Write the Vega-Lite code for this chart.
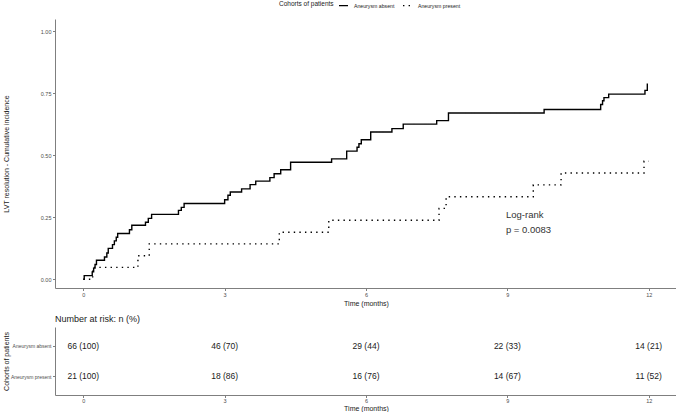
{
  "$schema": "https://vega.github.io/schema/vega-lite/v6.json",
  "padding": {"left": 2, "top": 0, "right": 0, "bottom": 0},
  "background": "white",
  "config": {
    "font": "Liberation Sans",
    "view": {"stroke": null},
    "axis": {"grid": false, "domainColor": "#7f7f7f", "tickColor": "#7f7f7f", "labelColor": "#4d4d4d", "labelFontSize": 5.5, "titleFontSize": 7, "titleFontWeight": "normal", "titleColor": "#1a1a1a", "tickSize": 2.5, "labelPadding": 1.5},
    "concat": {"spacing": 7}
  },
  "datasets": {
    "km": [
      {"group": "Aneurysm absent", "time": 0, "cum": 0},
      {"group": "Aneurysm absent", "time": 0.02, "cum": 0.015},
      {"group": "Aneurysm absent", "time": 0.19, "cum": 0.03},
      {"group": "Aneurysm absent", "time": 0.22, "cum": 0.045},
      {"group": "Aneurysm absent", "time": 0.25, "cum": 0.06},
      {"group": "Aneurysm absent", "time": 0.28, "cum": 0.077},
      {"group": "Aneurysm absent", "time": 0.45, "cum": 0.09},
      {"group": "Aneurysm absent", "time": 0.5, "cum": 0.106},
      {"group": "Aneurysm absent", "time": 0.53, "cum": 0.125},
      {"group": "Aneurysm absent", "time": 0.62, "cum": 0.14},
      {"group": "Aneurysm absent", "time": 0.66, "cum": 0.155},
      {"group": "Aneurysm absent", "time": 0.7, "cum": 0.17},
      {"group": "Aneurysm absent", "time": 0.73, "cum": 0.185},
      {"group": "Aneurysm absent", "time": 0.98, "cum": 0.2},
      {"group": "Aneurysm absent", "time": 1.03, "cum": 0.218},
      {"group": "Aneurysm absent", "time": 1.32, "cum": 0.23},
      {"group": "Aneurysm absent", "time": 1.38, "cum": 0.246},
      {"group": "Aneurysm absent", "time": 1.45, "cum": 0.262},
      {"group": "Aneurysm absent", "time": 2.02, "cum": 0.278},
      {"group": "Aneurysm absent", "time": 2.08, "cum": 0.29},
      {"group": "Aneurysm absent", "time": 2.14, "cum": 0.306},
      {"group": "Aneurysm absent", "time": 3.0, "cum": 0.321},
      {"group": "Aneurysm absent", "time": 3.07, "cum": 0.339},
      {"group": "Aneurysm absent", "time": 3.12, "cum": 0.352},
      {"group": "Aneurysm absent", "time": 3.36, "cum": 0.365},
      {"group": "Aneurysm absent", "time": 3.54, "cum": 0.382},
      {"group": "Aneurysm absent", "time": 3.66, "cum": 0.396},
      {"group": "Aneurysm absent", "time": 3.96, "cum": 0.41},
      {"group": "Aneurysm absent", "time": 4.05, "cum": 0.426},
      {"group": "Aneurysm absent", "time": 4.19, "cum": 0.442},
      {"group": "Aneurysm absent", "time": 4.4, "cum": 0.472},
      {"group": "Aneurysm absent", "time": 5.27, "cum": 0.486},
      {"group": "Aneurysm absent", "time": 5.59, "cum": 0.517},
      {"group": "Aneurysm absent", "time": 5.81, "cum": 0.533},
      {"group": "Aneurysm absent", "time": 5.85, "cum": 0.547},
      {"group": "Aneurysm absent", "time": 5.9, "cum": 0.563},
      {"group": "Aneurysm absent", "time": 6.1, "cum": 0.594},
      {"group": "Aneurysm absent", "time": 6.55, "cum": 0.608},
      {"group": "Aneurysm absent", "time": 6.79, "cum": 0.626},
      {"group": "Aneurysm absent", "time": 7.5, "cum": 0.64},
      {"group": "Aneurysm absent", "time": 7.75, "cum": 0.671},
      {"group": "Aneurysm absent", "time": 9.78, "cum": 0.685},
      {"group": "Aneurysm absent", "time": 10.98, "cum": 0.705},
      {"group": "Aneurysm absent", "time": 11.02, "cum": 0.72},
      {"group": "Aneurysm absent", "time": 11.05, "cum": 0.733},
      {"group": "Aneurysm absent", "time": 11.15, "cum": 0.747},
      {"group": "Aneurysm absent", "time": 11.92, "cum": 0.762},
      {"group": "Aneurysm absent", "time": 11.97, "cum": 0.79},
      {"group": "Aneurysm present", "time": 0, "cum": 0},
      {"group": "Aneurysm present", "time": 0.2, "cum": 0.048},
      {"group": "Aneurysm present", "time": 1.16, "cum": 0.095},
      {"group": "Aneurysm present", "time": 1.4, "cum": 0.143},
      {"group": "Aneurysm present", "time": 4.16, "cum": 0.19},
      {"group": "Aneurysm present", "time": 5.21, "cum": 0.238},
      {"group": "Aneurysm present", "time": 7.55, "cum": 0.286},
      {"group": "Aneurysm present", "time": 7.7, "cum": 0.333},
      {"group": "Aneurysm present", "time": 9.55, "cum": 0.381},
      {"group": "Aneurysm present", "time": 10.14, "cum": 0.429},
      {"group": "Aneurysm present", "time": 11.9, "cum": 0.476},
      {"group": "Aneurysm present", "time": 12.0, "cum": 0.476}
    ],
    "annot": [
      {"time": 8.97, "cum": 0.258, "text": "Log-rank"},
      {"time": 8.97, "cum": 0.198, "text": "p = 0.0083"}
    ],
    "risk": [
      {"group": "Aneurysm absent", "time": 0, "label": "66 (100)"},
      {"group": "Aneurysm absent", "time": 3, "label": "46 (70)"},
      {"group": "Aneurysm absent", "time": 6, "label": "29 (44)"},
      {"group": "Aneurysm absent", "time": 9, "label": "22 (33)"},
      {"group": "Aneurysm absent", "time": 12, "label": "14 (21)"},
      {"group": "Aneurysm present", "time": 0, "label": "21 (100)"},
      {"group": "Aneurysm present", "time": 3, "label": "18 (86)"},
      {"group": "Aneurysm present", "time": 6, "label": "16 (76)"},
      {"group": "Aneurysm present", "time": 9, "label": "14 (67)"},
      {"group": "Aneurysm present", "time": 12, "label": "11 (52)"}
    ]
  },
  "vconcat": [
    {
      "width": 622,
      "height": 269,
      "layer": [
        {
          "data": {"name": "km"},
          "mark": {"type": "line", "interpolate": "step-after", "color": "black", "strokeWidth": 1.4},
          "encoding": {
            "x": {"field": "time", "type": "quantitative", "scale": {"domain": [-0.6, 12.6], "nice": false, "zero": false}, "axis": {"values": [0, 3, 6, 9, 12], "title": "Time (months)", "titlePadding": 2}},
            "y": {"field": "cum", "type": "quantitative", "scale": {"domain": [-0.035, 1.05], "nice": false, "zero": false}, "axis": {"values": [0, 0.25, 0.5, 0.75, 1], "format": ".2f", "title": "LVT resolution - Cumulative incidence", "minExtent": 42, "maxExtent": 42, "titlePadding": 4}},
            "strokeDash": {"field": "group", "type": "nominal", "scale": {"domain": ["Aneurysm absent", "Aneurysm present"], "range": [[1, 0], [1.4, 4.2]]},
              "legend": {"orient": "none", "legendX": 224, "legendY": -19, "direction": "horizontal", "titleOrient": "left", "title": "Cohorts of patients", "titleFontSize": 6.5, "titleFontWeight": "normal", "titleColor": "#1a1a1a", "labelFontSize": 5.2, "labelColor": "#1a1a1a", "symbolType": "stroke", "symbolStrokeColor": "black", "symbolStrokeWidth": 1.4, "symbolSize": 81, "labelOffset": 5, "columnPadding": 5, "titlePadding": 4, "padding": 0}}
          }
        },
        {
          "data": {"name": "annot"},
          "mark": {"type": "text", "align": "left", "baseline": "middle", "fontSize": 9.5, "color": "#333333"},
          "encoding": {
            "x": {"field": "time", "type": "quantitative"},
            "y": {"field": "cum", "type": "quantitative"},
            "text": {"field": "text"}
          }
        }
      ]
    },
    {
      "width": 622,
      "height": 68,
      "title": {"text": "Number at risk: n (%)", "anchor": "start", "frame": "group", "fontSize": 9, "fontWeight": "normal", "color": "#1a1a1a", "offset": 3.5},
      "data": {"name": "risk"},
      "mark": {"type": "text", "fontSize": 8.5, "color": "#1a1a1a", "baseline": "middle"},
      "encoding": {
        "x": {"field": "time", "type": "quantitative", "scale": {"domain": [-0.6, 12.6], "nice": false, "zero": false}, "axis": {"values": [0, 3, 6, 9, 12], "title": "Time (months)", "titlePadding": 0.5, "labelPadding": 1}},
        "y": {"field": "group", "type": "nominal", "scale": {"type": "point", "padding": 0.6, "domain": ["Aneurysm absent", "Aneurysm present"]}, "axis": {"title": "Cohorts of patients", "labelFontSize": 5, "minExtent": 42, "maxExtent": 42, "titlePadding": 4}},
        "text": {"field": "label"}
      }
    }
  ]
}
